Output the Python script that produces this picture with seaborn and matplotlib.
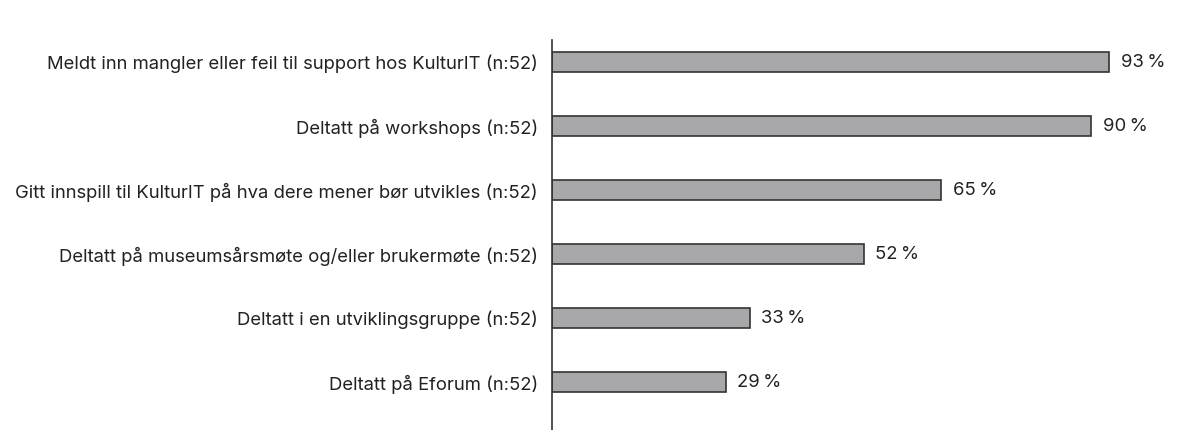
import matplotlib
matplotlib.use("Agg")
import matplotlib.pyplot as plt
import seaborn as sns
import pandas as pd

categories = [
    "Meldt inn mangler eller feil til support hos KulturIT (n:52)",
    "Deltatt på workshops (n:52)",
    "Gitt innspill til KulturIT på hva dere mener bør utvikles (n:52)",
    "Deltatt på museumsårsmøte og/eller brukermøte (n:52)",
    "Deltatt i en utviklingsgruppe (n:52)",
    "Deltatt på Eforum (n:52)",
]
values = [93, 90, 65, 52, 33, 29]

df = pd.DataFrame({"cat": categories, "val": values})

sns.set_theme(style="white")
plt.rcParams["font.family"] = ["Inter", "DejaVu Sans"]

fig = plt.figure(figsize=(11.99, 4.30), dpi=100)
ax = fig.add_axes([552 / 1199, 0.0, 1 - 552 / 1199 - 0.015, 390 / 430])

sns.barplot(data=df, x="val", y="cat", orient="h", ax=ax,
            color="#a8a8ab", edgecolor="#333333", linewidth=1.2,
            width=0.3, saturation=1)

ax.set_xlim(0, 105)
ax.set_ylim(5.75, -0.344)
ax.set_xlabel("")
ax.set_ylabel("")
ax.set_xticks([])
for s in ["top", "right", "bottom"]:
    ax.spines[s].set_visible(False)
ax.spines["left"].set_color("#333333")
ax.spines["left"].set_linewidth(1.2)
ax.tick_params(axis="y", length=0, pad=10, labelsize=13.3, labelcolor="#222222")

for i, v in enumerate(values):
    ax.text(v + 1.9, i, f"{v}\u202f%", va="center", ha="left", fontsize=13.3, color="#222222")

fig.savefig("out.png", dpi=100)
